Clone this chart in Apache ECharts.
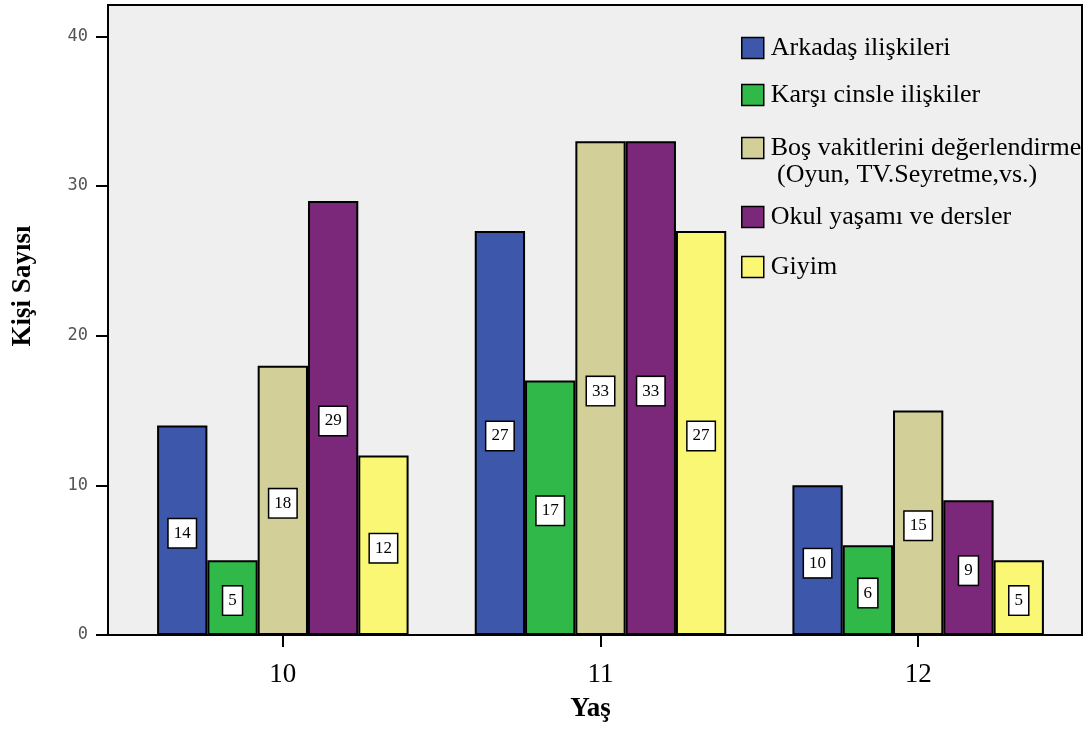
<!DOCTYPE html>
<html><head><meta charset="utf-8">
<script src="https://cdn.jsdelivr.net/npm/echarts@6/dist/echarts.min.js"></script>
<style>html,body{margin:0;padding:0;background:#fff}#c{width:1091px;height:729px}</style>
</head><body><div id="c"></div>
<script>
const categories = ['10', '11', '12'];
const seriesNames = ['Arkadaş ilişkileri', 'Karşı cinsle ilişkiler', 'Boş vakitlerini değerlendirme (Oyun, TV.Seyretme,vs.)', 'Okul yaşamı ve dersler', 'Giyim'];
const arkadas = [14, 27, 10];
const karsiCins = [5, 17, 6];
const bosVakit = [18, 33, 15];
const okul = [29, 33, 9];
const giyim = [12, 27, 5];
const yTicks = [0, 10, 20, 30, 40];
const colors = ['#3d58ab', '#30b949', '#d3cf98', '#7b287b', '#faf774'];
const values = [arkadas, karsiCins, bosVakit, okul, giyim];
const legendCenters = [46, 93, 146, 215, 265];

const serif = 'Liberation Serif, Times New Roman, serif';
const chart = echarts.init(document.getElementById('c'));
const series = values.map((v, i) => ({
  name: seriesNames[i], type: 'bar', xAxisIndex: 1, yAxisIndex: 1,
  data: v, barWidth: 50.3, barGap: '0%',
  itemStyle: { color: colors[i], borderColor: '#000', borderWidth: 2 },
  label: { show: true, position: 'inside', offset: [0, 3], color: '#000', fontFamily: serif, fontSize: 17,
    backgroundColor: '#fff', borderColor: '#000', borderWidth: 1.5, padding: [6, 5, 5, 5] }
}));
const legends = seriesNames.map((n, i) => ({
  data: [n], left: 741, top: legendCenters[i] - 11, padding: 0,
  itemWidth: 22, itemHeight: 21, icon: 'rect', selectedMode: false,
  itemStyle: { borderColor: '#000', borderWidth: 1.5 },
  formatter: (name) => name.split(' (')[0],
  textStyle: { fontFamily: serif, fontSize: 26, color: '#000', lineHeight: 22, padding: [0, 0, 0, 2] }
}));
chart.setOption({
  animation: false,
  grid: [
    { left: 108, right: 9, top: 5, bottom: 94, show: true, backgroundColor: '#efefef', borderColor: '#000', borderWidth: 2 },
    { left: 124, right: 14, top: 5, bottom: 94 }
  ],
  legend: legends,
  graphic: [{ type: 'text', left: 777, top: 175 - 13, style: { text: '(Oyun, TV.Seyretme,vs.)', font: '26px ' + serif, fill: '#000' } }],
  xAxis: [
    { gridIndex: 0, type: 'value', min: 0, max: 1, show: false },
    { gridIndex: 1, type: 'category', data: categories,
      axisLine: { show: false },
      axisTick: { show: true, alignWithLabel: true, length: 12, lineStyle: { color: '#000', width: 2 } },
      axisLabel: { color: '#000', fontFamily: serif, fontSize: 27, margin: 26 },
      name: 'Yaş', nameLocation: 'middle', nameGap: 61,
      nameTextStyle: { color: '#000', fontFamily: serif, fontSize: 27, fontWeight: 'bold', padding: [0, 20, 0, 0] } }
  ],
  yAxis: [
    { gridIndex: 0, type: 'value', min: 0, max: 42.1, interval: 10,
      axisLine: { show: true, lineStyle: { color: '#000', width: 2 } },
      axisTick: { show: true, customValues: yTicks, length: 12, lineStyle: { color: '#000', width: 2 } },
      axisLabel: { customValues: yTicks, color: '#555', fontFamily: 'DejaVu Sans Mono', fontSize: 17, margin: 20 },
      splitLine: { show: false },
      name: 'Kişi Sayısı', nameLocation: 'middle', nameGap: 71,
      nameTextStyle: { color: '#000', fontFamily: serif, fontSize: 27, fontWeight: 'bold', padding: [0, 0, 0, 68] } },
    { gridIndex: 1, type: 'value', min: 0, max: 42.1, interval: 10, show: false, splitLine: { show: false } }
  ],
  series: series
});
</script></body></html>
